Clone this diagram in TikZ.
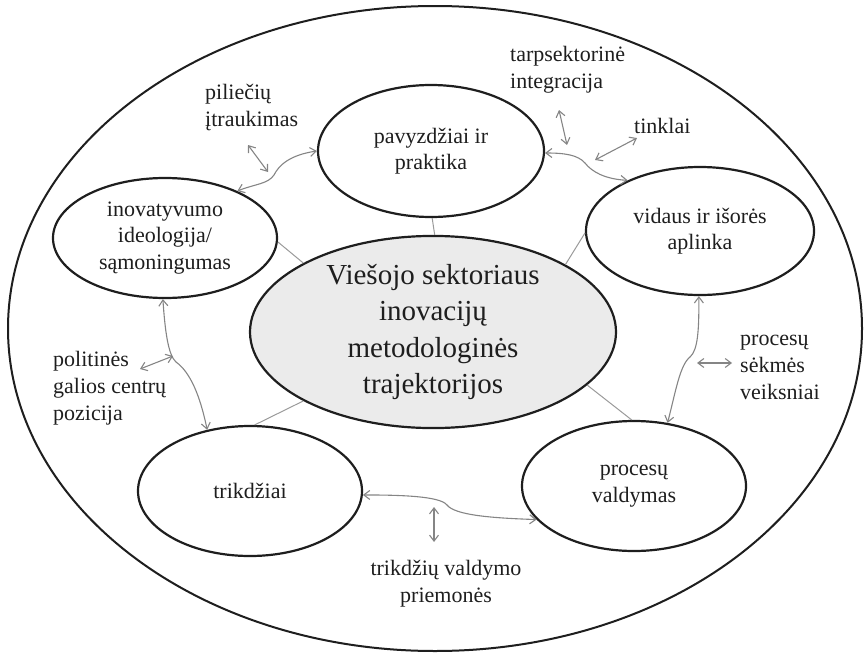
\documentclass[tikz,border=0pt]{standalone}
\usepackage{fontspec}
\setmainfont{Liberation Serif}
\usetikzlibrary{shapes.geometric,arrows.meta}

\definecolor{ink}{HTML}{1E1E1E}
\definecolor{linkgray}{HTML}{9A9A9A}
\definecolor{arrowgray}{HTML}{858585}
\definecolor{hubfill}{HTML}{EBEBEB}

\tikzset{
  bubble/.style={ellipse, draw=ink, line width=2.2pt, fill=white, inner sep=0pt,
    align=center, text=ink, font=\fontsize{22}{26.5}\selectfont},
  hub/.style={bubble, fill=hubfill, font=\fontsize{29}{36.5}\selectfont},
  note/.style={inner sep=0pt, text=ink, font=\fontsize{22}{27}\selectfont},
  spoke/.style={draw=linkgray, line width=1pt},
  link/.style={draw=arrowgray, line width=1.1pt,
    {Straight Barb[length=6pt,width=9pt]}-{Straight Barb[length=6pt,width=9pt]}},
}

\begin{document}
\begin{tikzpicture}[x=1pt, y=-1pt]
\useasboundingbox (0,0) rectangle (864,653);

% enclosing ellipse
\node[ellipse, draw=ink, line width=2pt, minimum width=854pt, minimum height=645pt,
      inner sep=0pt] (frame) at (435,328.5) {};

% central topic
\node[hub, minimum width=366pt, minimum height=188pt] (hub) at (433,332)
  {Viešojo sektoriaus\\inovacijų\\metodologinės\\trajektorijos};

% surrounding topics
\node[bubble, minimum width=226pt, minimum height=132pt] (pav) at (431,151)
  {pavyzdžiai ir\\praktika};
\node[bubble, minimum width=224pt, minimum height=120pt] (inov) at (165,238)
  {inovatyvumo\\ideologija/\\sąmoningumas};
\node[bubble, minimum width=228pt, minimum height=128pt] (vid) at (700,231)
  {vidaus ir išorės\\aplinka};
\node[bubble, minimum width=224pt, minimum height=130pt] (trik) at (250,491)
  {trikdžiai};
\node[bubble, minimum width=224pt, minimum height=130pt] (proc) at (634,486)
  {procesų\\valdymas};

% spokes from the centre
\draw[spoke] (hub.89)  -- (pav.-89);
\draw[spoke] (hub.152) -- (inov.-2);
\draw[spoke] (hub.27)  -- (vid.181);
\draw[spoke] (hub.208) -- (trik.86);
\draw[spoke] (hub.-19) -- (proc.92);

% links between neighbouring topics
\draw[link] (inov.33) .. controls (255,184) and (268,184) .. (274,175)
            .. controls (279,165) and (290,155) .. (pav.180);
\draw[link] (pav.-1) .. controls (565,153) and (578,155) .. (585,163)
            .. controls (592,172) and (605,179) .. (vid.145);
\draw[link] (inov.-92) .. controls (165,330) and (168,355) .. (176,362)
            .. controls (190,372) and (200,395) .. (trik.125);
\draw[link] (vid.-91) .. controls (699,330) and (698,350) .. (690,357)
            .. controls (680,365) and (676,390) .. (proc.62);
\draw[link] (trik.-2) .. controls (400,495) and (440,496) .. (447,505)
            .. controls (455,515) and (490,518) .. (proc.199);

% factor labels
\node[note, anchor=west, align=left] (pil) at (205,108) {piliečių\\įtraukimas};
\node[note, anchor=west, align=left] (tarp) at (510,70) {tarpsektorinė\\integracija};
\node[note, anchor=west] (tink) at (634,126) {tinklai};
\node[note, anchor=west, align=left] (pol) at (53,388) {politinės\\galios centrų\\pozicija};
\node[note, anchor=west, align=left] (sek) at (740,367) {procesų\\sėkmės\\veiksniai};
\node[note, align=center] (prie) at (446,584) {trikdžių valdymo\\priemonės};

% short double arrows pointing at the links
\coordinate (pilA) at (248,145);  \coordinate (pilB) at (268,172);
\coordinate (tarpA) at (559,110); \coordinate (tarpB) at (567,145);
\coordinate (tinkA) at (637,138); \coordinate (tinkB) at (595,160);
\coordinate (polA) at (140,369);  \coordinate (polB) at (173,356);
\coordinate (sekA) at (732,363);  \coordinate (sekB) at (697,363);
\coordinate (prieA) at (434,542); \coordinate (prieB) at (434,507);
\draw[link] (pilA) -- (pilB);
\draw[link] (tarpA) -- (tarpB);
\draw[link] (tinkA) -- (tinkB);
\draw[link] (polA) -- (polB);
\draw[link] (sekA) -- (sekB);
\draw[link] (prieA) -- (prieB);
\end{tikzpicture}
\end{document}
